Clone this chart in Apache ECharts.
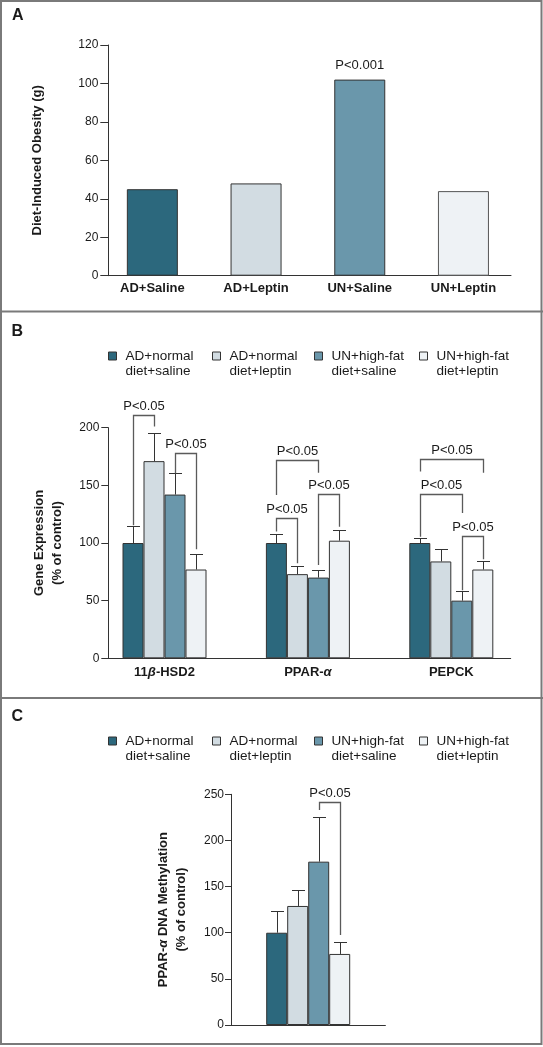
<!DOCTYPE html>
<html><head><meta charset="utf-8">
<script src="https://cdn.jsdelivr.net/npm/echarts@6/dist/echarts.min.js"></script>
<style>html,body{margin:0;padding:0;background:#fff}#c{width:543px;height:1047px}</style>
</head><body><div id="c"></div>
<script>
// ---------- DATA ----------
// Panel A
const catsA = ['AD+Saline', 'AD+Leptin', 'UN+Saline', 'UN+Leptin'];
const valsA = [45, 48, 102, 44];
const pLabelsA = ['', '', 'P<0.001', ''];

// Groups (legend) shared by panels B and C
const groupNames = ['AD+normal\ndiet+saline', 'AD+normal\ndiet+leptin', 'UN+high-fat\ndiet+saline', 'UN+high-fat\ndiet+leptin'];

// Panel B (gene expression, % of control)
const catsB = ['11β-HSD2', 'PPAR-α', 'PEPCK'];
const meanB_ADsaline = [100, 100, 100];
const meanB_ADleptin = [171, 73, 84];
const meanB_UNsaline = [142, 70, 50];
const meanB_UNleptin = [77, 102, 77];
const errB_ADsaline = [15, 7.5, 4];
const errB_ADleptin = [24, 7, 10.5];
const errB_UNsaline = [18.5, 6.6, 8];
const errB_UNleptin = [13.5, 9, 7.5];
// brackets: [category, left bar, right bar, top value, left leg end, right leg end]
const bracketsB = [
  [0, 0, 1, 211, 115.3, 201],
  [0, 2, 3, 178, 160.5, 94.5],
  [1, 0, 2, 172, 141.6, 161],
  [1, 0, 1, 122, 110, 82.4],
  [1, 2, 3, 142.5, 81, 114],
  [2, 0, 3, 172.5, 162, 161],
  [2, 0, 2, 142.5, 105.5, 126],
  [2, 2, 3, 106, 59, 86]
];
const bracketLabelsB = ['P<0.05', 'P<0.05', 'P<0.05', 'P<0.05', 'P<0.05', 'P<0.05', 'P<0.05', 'P<0.05'];

// Panel C (PPAR-α DNA methylation, % of control)
const catsC = [''];
const meanC = [100, 129, 177, 77];
const errC = [23, 17, 48, 13];
const bracketsC = [[0, 2, 3, 242, 233, 97.5]];
const bracketLabelsC = ['P<0.05'];

const ticksA = { min: 0, max: 120, interval: 20 };
const ticksB = { min: 0, max: 200, interval: 50 };
const ticksC = { min: 0, max: 250, interval: 50 };

// ---------- STYLE ----------
const FONT = '"Liberation Sans", Arial, sans-serif';
const COLORS = ['#2c687d', '#d2dce2', '#6a97ab', '#eef2f5'];
const BORDER = '#333';
const TXT = '#1a1a1a';
const BW = 21;

const meansB = [meanB_ADsaline, meanB_ADleptin, meanB_UNsaline, meanB_UNleptin];
const errsB = [errB_ADsaline, errB_ADleptin, errB_UNsaline, errB_UNleptin];

function errRender(params, api) {
  const c = api.value(0), s = api.value(1), m = api.value(2), e = api.value(3);
  const p0 = api.coord([c, m]);
  const p1 = api.coord([c, m + e]);
  const x = Math.round(p0[0] + (s - 1.5) * BW) + 0.5;
  const y1 = Math.round(p1[1]) + 0.5;
  return {
    type: 'group', children: [
      { type: 'line', shape: { x1: x, y1: p0[1], x2: x, y2: y1 }, style: { stroke: BORDER, lineWidth: 1 } },
      { type: 'line', shape: { x1: x - 6.5, y1: y1, x2: x + 6.5, y2: y1 }, style: { stroke: BORDER, lineWidth: 1 } }
    ]
  };
}
function bracketRender(labels) {
  return function (params, api) {
    const c = api.value(0), i = api.value(1), j = api.value(2);
    const t = api.coord([c, api.value(3)]);
    const lb = api.coord([c, api.value(4)]);
    const rb = api.coord([c, api.value(5)]);
    const xl = Math.round(t[0] + (i - 1.5) * BW) + 0.5;
    const xr = Math.round(t[0] + (j - 1.5) * BW) + 0.5;
    const yt = Math.round(t[1]) + 0.5;
    return {
      type: 'group', children: [
        { type: 'polyline', shape: { points: [[xl, lb[1]], [xl, yt], [xr, yt], [xr, rb[1]]] },
          style: { stroke: '#5a5a5a', lineWidth: 1.3, fill: null } },
        { type: 'text', x: (xl + xr) / 2, y: yt - 3,
          style: { text: labels[params.dataIndex], align: 'center', verticalAlign: 'bottom',
                   font: '13px ' + FONT, fill: TXT } }
      ]
    };
  };
}

const errDataB = [];
meansB.forEach((arr, s) => arr.forEach((m, c) => errDataB.push([c, s, m, errsB[s][c]])));
const errDataC = meanC.map((m, s) => [0, s, m, errC[s]]);

const yName = { fontFamily: FONT, fontWeight: 'bold', fontSize: 13, color: TXT, lineHeight: 18,
  rich: { i: { fontFamily: FONT, fontWeight: 'bold', fontStyle: 'italic', fontSize: 13, color: TXT, lineHeight: 18 } } };
const tickLabel = { fontFamily: FONT, fontSize: 12, color: TXT };

function hiddenValAxis(grid, t) {
  return { type: 'value', gridIndex: grid, min: t.min, max: t.max, show: false };
}
function lineOnlyX(grid) {
  return { type: 'value', gridIndex: grid, min: 0, max: 1, axisLine: { show: true, lineStyle: { color: BORDER, width: 1 } },
    axisTick: { show: false }, axisLabel: { show: false }, splitLine: { show: false } };
}
function shownY(grid, t, name, gap, tickLen, margin) {
  return { type: 'value', gridIndex: grid, min: t.min, max: t.max, interval: t.interval,
    name: name, nameLocation: 'middle', nameGap: gap, nameTextStyle: yName, nameRotate: 90,
    axisLine: { show: true, lineStyle: { color: BORDER, width: 1 } },
    axisTick: { show: true, inside: false, length: tickLen, lineStyle: { color: BORDER, width: 1 } },
    axisLabel: Object.assign({ margin: margin }, tickLabel), splitLine: { show: false } };
}

const legendLefts = [108, 212, 314, 419];
const legends = [];
[333.5, 718.5].forEach(top => {
  groupNames.forEach((n, k) => {
    legends.push({ left: legendLefts[k], top: top, padding: 0, orient: 'horizontal', selectedMode: false,
      data: [n], icon: 'rect', itemWidth: 8, itemHeight: 8,
      itemStyle: { borderColor: BORDER, borderWidth: 1 },
      formatter: nm => '\n' + nm,
      textStyle: { fontFamily: FONT, fontSize: 13.5, lineHeight: 15, color: TXT, padding: [0, 0, 0, 4] } });
  });
});

const series = [];
// Panel A
series.push({ type: 'bar', name: 'A', xAxisIndex: 0, yAxisIndex: 0, barWidth: 51,
  data: valsA.map((v, i) => ({ value: v, itemStyle: { color: COLORS[i], borderColor: i === 3 ? '#555' : BORDER, borderWidth: 1 } })),
  label: { show: true, position: 'top', distance: 8, fontFamily: FONT, fontSize: 13, color: TXT,
    formatter: p => pLabelsA[p.dataIndex] } });
// Panel B
meansB.forEach((arr, s) => {
  series.push({ type: 'bar', name: groupNames[s], xAxisIndex: 2, yAxisIndex: 2, barWidth: BW, barGap: '0%',
    itemStyle: { color: COLORS[s], borderColor: BORDER, borderWidth: 1 }, data: arr });
});
series.push({ type: 'custom', name: 'errB', xAxisIndex: 2, yAxisIndex: 2, renderItem: errRender, data: errDataB, z: 5 });
series.push({ type: 'custom', name: 'brB', xAxisIndex: 2, yAxisIndex: 2, renderItem: bracketRender(bracketLabelsB), data: bracketsB, z: 6 });
// Panel C
meanC.forEach((m, s) => {
  series.push({ type: 'bar', name: groupNames[s], xAxisIndex: 4, yAxisIndex: 4, barWidth: BW, barGap: '0%',
    itemStyle: { color: COLORS[s], borderColor: BORDER, borderWidth: 1 }, data: [m] });
});
series.push({ type: 'custom', name: 'errC', xAxisIndex: 4, yAxisIndex: 4, renderItem: errRender, data: errDataC, z: 5 });
series.push({ type: 'custom', name: 'brC', xAxisIndex: 4, yAxisIndex: 4, renderItem: bracketRender(bracketLabelsC), data: bracketsC, z: 6 });

const boldLabel = { fontFamily: FONT, fontWeight: 'bold', fontSize: 13, color: TXT };

const option = {
  animation: false,
  backgroundColor: '#fff',
  textStyle: { fontFamily: FONT },
  grid: [
    { left: 100.5, top: 45, width: 414.8, height: 230.7, outerBoundsMode: 'none' },
    { left: 108.3, top: 45, width: 402.7, height: 230.7, outerBoundsMode: 'none' },
    { left: 92.8, top: 427.7, width: 430.2, height: 230.6, outerBoundsMode: 'none' },
    { left: 108.3, top: 427.7, width: 402.4, height: 230.6, outerBoundsMode: 'none' },
    { left: 231, top: 794.3, width: 154.4, height: 230.7, outerBoundsMode: 'none' }
  ],
  xAxis: [
    { type: 'category', gridIndex: 0, data: catsA, axisLine: { show: false }, axisTick: { show: false },
      axisLabel: Object.assign({ margin: 6, interval: 0 }, boldLabel) },
    lineOnlyX(1),
    { type: 'category', gridIndex: 2, data: catsB, axisLine: { show: false }, axisTick: { show: false },
      axisLabel: Object.assign({ margin: 8, interval: 0,
        formatter: v => v.replace(/([αβ])/g, '{i|$1}'),
        rich: { i: { fontFamily: FONT, fontWeight: 'bold', fontStyle: 'italic', fontSize: 13, color: TXT } } }, boldLabel) },
    lineOnlyX(3),
    { type: 'category', gridIndex: 4, data: catsC, axisLine: { show: true, lineStyle: { color: BORDER, width: 1 } },
      axisTick: { show: false }, axisLabel: { show: false } }
  ],
  yAxis: [
    hiddenValAxis(0, ticksA),
    shownY(1, ticksA, 'Diet-Induced Obesity (g)', 62, 8, 10),
    hiddenValAxis(2, ticksB),
    shownY(3, ticksB, 'Gene Expression\n(% of control)', 42, 7, 9),
    shownY(4, ticksC, 'PPAR-{i|α} DNA Methylation\n(% of control)', 41, 6, 7)
  ],
  legend: legends,
  series: series,
  graphic: [
    { type: 'rect', shape: { x: 1, y: 1, width: 540.5, height: 1043 }, style: { fill: null, stroke: '#7a7a7a', lineWidth: 2 }, z: 100 },
    { type: 'line', shape: { x1: 0, y1: 311.5, x2: 543, y2: 311.5 }, style: { stroke: '#7a7a7a', lineWidth: 2 }, z: 100 },
    { type: 'line', shape: { x1: 0, y1: 698, x2: 543, y2: 698 }, style: { stroke: '#7a7a7a', lineWidth: 2 }, z: 100 },
    { type: 'text', x: 17.7, y: 16, style: { text: 'A', font: 'bold 16px ' + FONT, fill: TXT, align: 'center', verticalAlign: 'middle' } },
    { type: 'text', x: 17.3, y: 331.7, style: { text: 'B', font: 'bold 16px ' + FONT, fill: TXT, align: 'center', verticalAlign: 'middle' } },
    { type: 'text', x: 17.3, y: 716.7, style: { text: 'C', font: 'bold 16px ' + FONT, fill: TXT, align: 'center', verticalAlign: 'middle' } }
  ]
};
const chart = echarts.init(document.getElementById('c'), null, { renderer: 'canvas' });
chart.setOption(option);
</script></body></html>
